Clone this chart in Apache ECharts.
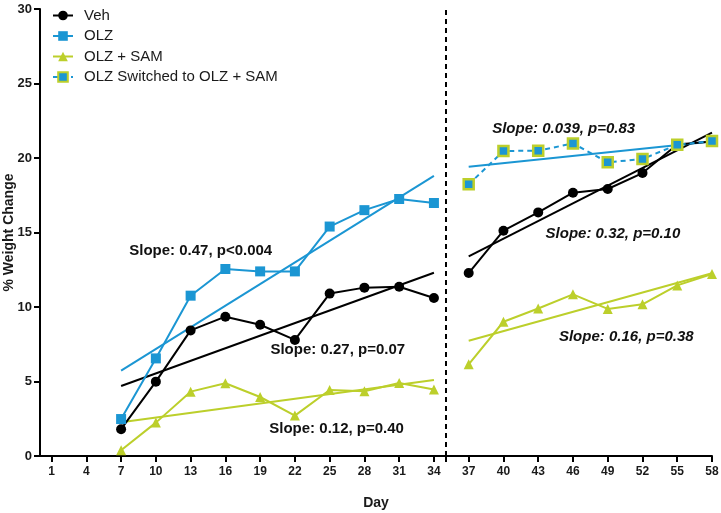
<!DOCTYPE html>
<html>
<head>
<meta charset="utf-8">
<script src="https://cdn.jsdelivr.net/npm/echarts@6/dist/echarts.min.js"></script>
<style>
  html, body { margin: 0; padding: 0; background: #fff; }
  #chart { width: 721px; height: 513px; }
</style>
</head>
<body>
<div id="chart"></div>
<script>
// days on the x axis
var dayTicks = [1, 4, 7, 10, 13, 16, 19, 22, 25, 28, 31, 34, 35, 37, 40, 43, 46, 49, 52, 55, 58];
var dayLabels = [1, 4, 7, 10, 13, 16, 19, 22, 25, 28, 31, 34, 37, 40, 43, 46, 49, 52, 55, 58];
var daysA = [7, 10, 13, 16, 19, 22, 25, 28, 31, 34];
var daysB = [37, 40, 43, 46, 49, 52, 55, 58];
var switchDay = 35;

// % weight change
var vehA = [1.8, 4.99, 8.43, 9.35, 8.81, 7.79, 10.9, 11.3, 11.36, 10.6];
var vehB = [12.28, 15.12, 16.35, 17.67, 17.92, 18.99, 20.9, 21.1];
var olzA = [2.48, 6.55, 10.76, 12.55, 12.39, 12.39, 15.4, 16.5, 17.25, 16.98];
var switchedB = [18.23, 20.47, 20.49, 20.98, 19.71, 19.93, 20.89, 21.14];
var samA = [0.38, 2.24, 4.32, 4.88, 3.96, 2.71, 4.43, 4.34, 4.9, 4.47];
var samB = [6.15, 9.01, 9.9, 10.85, 9.87, 10.18, 11.45, 12.21];

// fitted lines: [startDay, startValue, endDay, endValue]
var fitVehA = [7, 4.7, 34, 12.3];
var fitVehB = [37, 13.4, 58, 21.7];
var fitOlzA = [7, 5.73, 34, 18.8];
var fitSwitchedB = [37, 19.42, 58, 21.1];
var fitSamA = [7, 2.26, 34, 5.1];
var fitSamB = [37, 7.74, 58, 12.26];

// slope annotations
var noteText = ['Slope: 0.47, p<0.004', 'Slope: 0.27, p=0.07', 'Slope: 0.12, p=0.40',
  'Slope: 0.039, p=0.83', 'Slope: 0.32, p=0.10', 'Slope: 0.16, p=0.38'];
var noteDay = [13.87, 25.7, 25.6, 45.2, 49.45, 50.6];
var noteValue = [13.75, 7.1, 1.8, 21.95, 14.9, 7.99];
var noteItalic = [false, false, false, true, true, true];

var black = '#000000';
var blue = '#1b96d3';
var green = '#bccf2b';

function pairs(xs, ys) {
  return xs.map(function (x, i) { return [x, ys[i]]; });
}
function fit(f) {
  return [[f[0], f[1]], [f[2], f[3]]];
}
function fitLine(f, color) {
  return {
    type: 'line', data: fit(f), symbol: 'none', silent: true,
    lineStyle: { color: color, width: 2 }, z: 1
  };
}

var chart = echarts.init(document.getElementById('chart'));

var series = [
  {
    name: 'Veh', type: 'line', data: pairs(daysA, vehA),
    symbol: 'circle', symbolSize: 10,
    itemStyle: { color: black }, lineStyle: { color: black, width: 2 }, z: 3
  },
  {
    name: 'Veh', type: 'line', data: pairs(daysB, vehB),
    symbol: 'circle', symbolSize: 10,
    itemStyle: { color: black }, lineStyle: { color: black, width: 2 }, z: 3
  },
  {
    name: 'OLZ', type: 'line', data: pairs(daysA, olzA),
    symbol: 'rect', symbolSize: 10,
    itemStyle: { color: blue }, lineStyle: { color: blue, width: 2 }, z: 3
  },
  {
    name: 'OLZ + SAM', type: 'line', data: pairs(daysA, samA),
    symbol: 'triangle', symbolSize: 10,
    itemStyle: { color: green }, lineStyle: { color: green, width: 2 }, z: 3
  },
  {
    name: 'OLZ + SAM', type: 'line', data: pairs(daysB, samB),
    symbol: 'triangle', symbolSize: 10,
    itemStyle: { color: green }, lineStyle: { color: green, width: 2 }, z: 3
  },
  {
    name: 'OLZ Switched to OLZ + SAM', type: 'line', data: pairs(daysB, switchedB),
    symbol: 'rect', symbolSize: 10,
    itemStyle: { color: blue, borderColor: green, borderWidth: 2.5 },
    lineStyle: { color: blue, width: 2, type: [5, 4] }, z: 3
  },
  fitLine(fitVehA, black),
  fitLine(fitVehB, black),
  fitLine(fitOlzA, blue),
  fitLine(fitSwitchedB, blue),
  fitLine(fitSamA, green),
  fitLine(fitSamB, green),
  {
    type: 'scatter', symbolSize: 0, silent: true,
    itemStyle: { opacity: 1 },
    data: noteText.map(function (t, i) {
      return {
        value: [noteDay[i], noteValue[i]],
        label: {
          show: true, position: 'inside', formatter: t,
          fontStyle: noteItalic[i] ? 'italic' : 'normal'
        }
      };
    }),
    label: {
      color: '#111', fontSize: 15, fontWeight: 'bold', opacity: 1,
      fontFamily: 'Liberation Sans, Arial, sans-serif'
    },
    markLine: {
      silent: true, symbol: 'none', label: { show: false },
      lineStyle: { color: black, width: 2, type: [5, 4], opacity: 1 },
      data: [{ xAxis: switchDay }]
    },
    z: 4
  }
];

var option = {
  backgroundColor: '#ffffff',
  animation: false,
  textStyle: { fontFamily: 'Liberation Sans, Arial, sans-serif' },
  grid: { left: 40, right: 9, top: 9, bottom: 57, outerBoundsMode: 'none' },
  legend: {
    data: ['Veh', 'OLZ', 'OLZ + SAM', 'OLZ Switched to OLZ + SAM'],
    orient: 'vertical', left: 47, top: 3,
    itemWidth: 20, itemHeight: 12, itemGap: 5.5,
    textStyle: {
      fontSize: 15, color: '#1a1a1a', padding: [0, 0, 0, 6],
      fontFamily: 'Liberation Sans, Arial, sans-serif'
    }
  },
  xAxis: {
    type: 'value', min: 0, max: 58,
    name: 'Day', nameLocation: 'middle', nameGap: 40, nameMoveOverlap: false,
    nameTextStyle: { fontSize: 14, fontWeight: 'bold', color: '#1a1a1a' },
    axisLine: { lineStyle: { color: black, width: 2 } },
    axisTick: { show: true, length: 6, lineStyle: { color: black, width: 2 }, customValues: dayTicks },
    axisLabel: { customValues: dayLabels, fontSize: 12, fontWeight: 'bold', color: '#1a1a1a', margin: 10 },
    splitLine: { show: false }
  },
  yAxis: {
    type: 'value', min: 0, max: 30, interval: 5,
    name: '% Weight Change', nameLocation: 'middle', nameGap: 24, nameMoveOverlap: false,
    nameTextStyle: { fontSize: 14, fontWeight: 'bold', color: '#1a1a1a' },
    axisLine: { show: true, lineStyle: { color: black, width: 2 } },
    axisTick: { show: true, length: 6, lineStyle: { color: black, width: 2 } },
    axisLabel: { fontSize: 13, fontWeight: 'bold', color: '#1a1a1a', margin: 8 },
    splitLine: { show: false }
  },
  series: series
};

chart.setOption(option);
</script>
</body>
</html>
